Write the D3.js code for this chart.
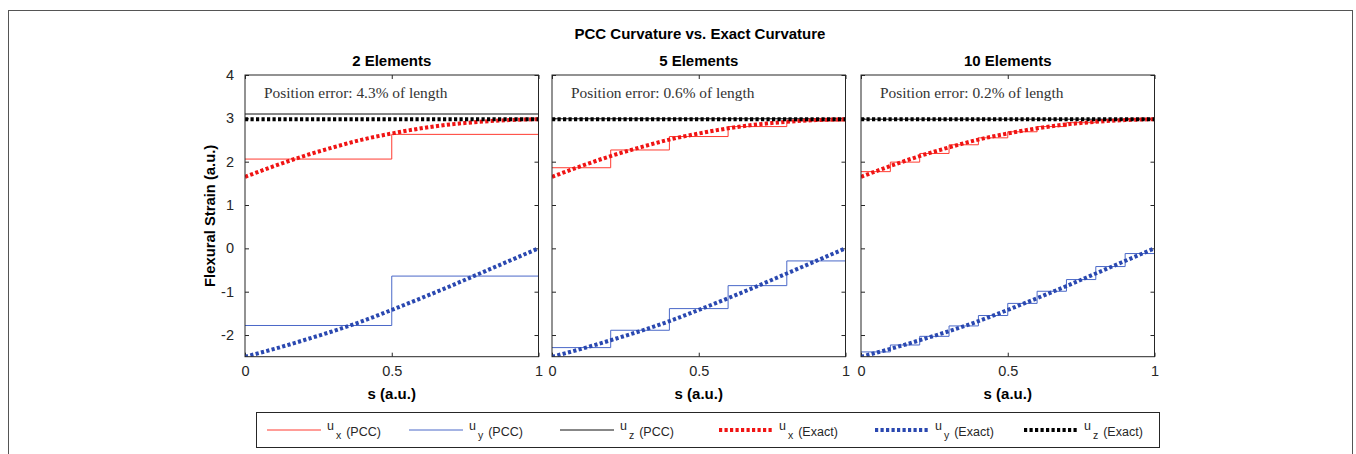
<!DOCTYPE html>
<html>
<head>
<meta charset="utf-8">
<script src="https://d3js.org/d3.v7.min.js"></script>
<style>
  body { margin: 0; background: #fff; }
  svg text { font-family: "Liberation Sans", Arial, sans-serif; fill: #262626; }
  .serif { font-family: "Liberation Serif", "Times New Roman", serif; fill: #333; }
  .bold { font-weight: bold; fill: #000; }
</style>
</head>
<body>
<svg id="chart" width="1356" height="454"></svg>
<script>
// panels
var panelTitles = ["2 Elements", "5 Elements", "10 Elements"];
var errorLabels = ["4.3%", "0.6%", "0.2%"];

// exact curvature, sampled along s
var sExact = [0, 0.1, 0.2, 0.3, 0.4, 0.5, 0.6, 0.7, 0.8, 0.9, 1.0];
var uxExact = [1.65, 1.90, 2.13, 2.33, 2.51, 2.65, 2.77, 2.86, 2.92, 2.96, 2.98];
var uyExact = [-2.50, -2.32, -2.12, -1.91, -1.68, -1.42, -1.15, -0.87, -0.58, -0.29, 0.0];
var uzExact = [2.98, 2.98, 2.98, 2.98, 2.98, 2.98, 2.98, 2.98, 2.98, 2.98, 2.98];

// piecewise constant curvature, one value per element
var uxPCC = [
  [2.06, 2.63],
  [1.86, 2.27, 2.58, 2.81, 2.94],
  [1.77, 1.99, 2.19, 2.39, 2.55, 2.69, 2.81, 2.90, 2.96, 2.99]
];
var uyPCC = [
  [-1.78, -0.64],
  [-2.29, -1.89, -1.39, -0.86, -0.29],
  [-2.39, -2.23, -2.03, -1.79, -1.55, -1.27, -0.99, -0.72, -0.42, -0.12]
];
var uzPCC = [
  [3.10, 3.10],
  [2.99, 2.99, 2.99, 2.99, 2.99],
  [2.98, 2.98, 2.98, 2.98, 2.98, 2.98, 2.98, 2.98, 2.98, 2.98]
];

var yTicks = [-2, -1, 0, 1, 2, 3, 4];
var xTicks = [0, 0.5, 1];

var legendAxes = ["x", "y", "z", "x", "y", "z"];
var legendKinds = ["(PCC)", "(PCC)", "(PCC)", "(Exact)", "(Exact)", "(Exact)"];

var colors = { x: "#ff3b30", y: "#4a68c8", z: "#111" };
var dotColors = { x: "#f01414", y: "#2a48b0", z: "#000" };

var svg = d3.select("#chart");

// outer frame
svg.append("rect")
  .attr("x", 8.5).attr("y", 10.5)
  .attr("width", 1344).attr("height", 470)
  .attr("fill", "none").attr("stroke", "#555").attr("stroke-width", 1);

svg.append("text")
  .attr("class", "bold")
  .attr("x", 700).attr("y", 39)
  .attr("text-anchor", "middle")
  .style("font-size", "15px")
  .text("PCC Curvature vs. Exact Curvature");

var panelLeft = [245, 552, 861];
var panelW = 293.5;
var plotTop = 75, plotBottom = 356.7;

var y = d3.scaleLinear().domain([-2.5, 4]).range([plotBottom, plotTop]);

var dotted = function (sel, c) {
  sel.attr("fill", "none").attr("stroke", c)
    .attr("stroke-width", 4).attr("stroke-dasharray", "3.2,2.3");
};

panelTitles.forEach(function (title, p) {
  var x = d3.scaleLinear().domain([0, 1]).range([panelLeft[p], panelLeft[p] + panelW]);
  var g = svg.append("g");

  g.append("clipPath").attr("id", "clip" + p)
    .append("rect")
    .attr("x", x(0)).attr("y", y(4))
    .attr("width", x(1) - x(0)).attr("height", y(-2.5) - y(4));

  // axes with inward ticks
  var ya = d3.axisLeft(y).tickValues(yTicks).tickSize(-4).tickPadding(11)
    .tickFormat(p === 0 ? function (d) { return String(d); } : "");
  g.append("g").attr("transform", "translate(" + x(0) + ",0)").call(ya)
    .call(function (a) { a.select(".domain").remove(); });
  g.append("g").attr("transform", "translate(" + x(1) + ",0)")
    .call(d3.axisRight(y).tickValues(yTicks).tickSize(-4).tickFormat(""))
    .call(function (a) { a.select(".domain").remove(); });
  g.append("g").attr("transform", "translate(0," + y(-2.5) + ")")
    .call(d3.axisBottom(x).tickValues(xTicks).tickSize(-4).tickPadding(9)
      .tickFormat(function (d) { return String(d); }))
    .call(function (a) { a.select(".domain").remove(); });
  g.append("g").attr("transform", "translate(0," + y(4) + ")")
    .call(d3.axisTop(x).tickValues(xTicks).tickSize(-4).tickFormat(""))
    .call(function (a) { a.select(".domain").remove(); });
  g.selectAll(".tick line").attr("stroke", "#262626");
  g.selectAll(".tick text").style("font-size", "14.5px").attr("fill", "#262626")
    .attr("font-family", null);

  var plot = g.append("g").attr("clip-path", "url(#clip" + p + ")");

  // PCC stairs
  var stairs = d3.line().x(function (d) { return x(d[0]); })
    .y(function (d) { return y(d[1]); }).curve(d3.curveStepAfter);
  [["x", uxPCC[p]], ["y", uyPCC[p]], ["z", uzPCC[p]]].forEach(function (s) {
    var vals = s[1], n = vals.length;
    var pts = vals.map(function (v, i) { return [i / n, v]; });
    pts.push([1, vals[n - 1]]);
    plot.append("path").attr("d", stairs(pts))
      .attr("fill", "none").attr("stroke", colors[s[0]]).attr("stroke-width", 1);
  });

  // exact curves
  var smooth = d3.line().x(function (d, i) { return x(sExact[i]); })
    .y(function (d) { return y(d); }).curve(d3.curveMonotoneX);
  [["x", uxExact], ["y", uyExact], ["z", uzExact]].forEach(function (s) {
    plot.append("path").attr("d", smooth(s[1])).call(dotted, dotColors[s[0]]);
  });

  g.append("rect")
    .attr("x", x(0)).attr("y", y(4))
    .attr("width", x(1) - x(0)).attr("height", y(-2.5) - y(4))
    .attr("fill", "none").attr("stroke", "#262626").attr("stroke-width", 1);

  g.append("text").attr("class", "serif")
    .attr("x", x(0.065)).attr("y", y(3.47))
    .style("font-size", "15.4px")
    .text("Position error: " + errorLabels[p] + " of length");

  g.append("text").attr("class", "bold")
    .attr("x", x(0.5)).attr("y", 65.5).attr("text-anchor", "middle")
    .style("font-size", "15px").text(title);

  g.append("text").attr("class", "bold")
    .attr("x", x(0.5)).attr("y", 399).attr("text-anchor", "middle")
    .style("font-size", "15px").text("s (a.u.)");
});

svg.append("text").attr("class", "bold")
  .attr("transform", "translate(215," + ((plotTop + plotBottom) / 2) + ") rotate(-90)")
  .attr("text-anchor", "middle")
  .style("font-size", "14.8px")
  .text("Flexural Strain (a.u.)");

// legend
var legendLineEnd = [321, 463, 614, 773, 929, 1078];
var legend = svg.append("g");
legend.append("rect")
  .attr("x", 256.5).attr("y", 412.5).attr("width", 903).attr("height", 35)
  .attr("fill", "#fff").attr("stroke", "#262626").attr("stroke-width", 1);

legendAxes.forEach(function (a, i) {
  var x1 = legendLineEnd[i], ly = 430;
  var ln = legend.append("line")
    .attr("x1", x1 - 54).attr("x2", x1).attr("y1", ly).attr("y2", ly);
  if (i < 3) ln.attr("stroke", colors[a]).attr("stroke-width", 1);
  else ln.call(dotted, dotColors[a]);
  var t = legend.append("text").attr("x", x1 + 6).attr("y", ly)
    .style("font-size", "12.5px");
  t.append("tspan").text("u");
  t.append("tspan").attr("dx", 2).attr("dy", 8.5).style("font-size", "10.5px").text(a);
  t.append("tspan").attr("dx", 5).attr("dy", -2.5).text(legendKinds[i]);
});
</script>
</body>
</html>
